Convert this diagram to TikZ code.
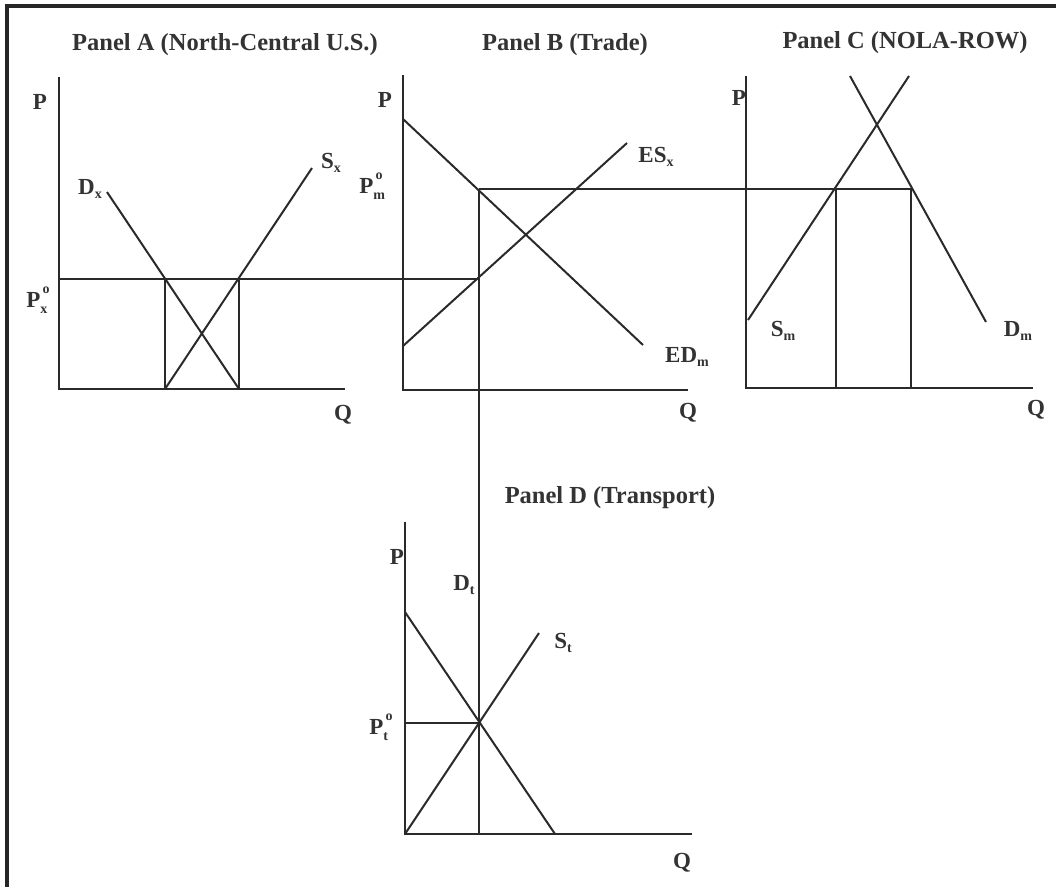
\documentclass[tikz,border=0pt]{standalone}
\usepackage{fontspec}
\setmainfont{Liberation Serif}
\definecolor{ink}{HTML}{2A2A2A}
\definecolor{txt}{HTML}{333333}
\newcommand\lbsub[2]{#1\raisebox{-0.4ex}{\fontsize{14}{14}\selectfont #2}}
\newcommand\lbsubsup[3]{#1\rlap{\raisebox{-0.5ex}{\fontsize{14}{14}\selectfont #2}}\raisebox{1.35ex}{\fontsize{14}{14}\selectfont\,#3}}
\begin{document}
\begin{tikzpicture}[x=1pt,y=-1pt,
  curve/.style={draw=ink,line width=2pt},
  frame/.style={draw=black!85,line width=3.2pt},
  title/.style={text=txt,font=\fontsize{24.5}{28}\selectfont\bfseries,inner sep=0pt},
  lab/.style={text=txt,font=\fontsize{23}{25}\selectfont\bfseries,inner sep=0pt}]
\useasboundingbox (0,0) rectangle (1056,887);
% frame
\coordinate (fTL) at (7,6);
\coordinate (fTR) at (1056,6);
\coordinate (fBL) at (7,887);
\draw[frame] (fTR) -- (fTL) -- (fBL);

% ---------- Panel A ----------
\coordinate (A0) at (59,389);
\coordinate (Atop) at (59,77);
\coordinate (Aright) at (345,389);
\coordinate (AD1) at (107,192);
\coordinate (AD2) at (239,389);
\coordinate (AS1) at (165,389);
\coordinate (AS2) at (312,168);
\coordinate (APx) at (59,279);
\coordinate (AX1) at (165,279);
\coordinate (AX2) at (239,279);
\draw[curve] (Atop) -- (A0) -- (Aright);
\draw[curve] (AD1) -- (AD2);
\draw[curve] (AS1) -- (AS2);
\draw[curve] (AX1) -- (AS1);
\draw[curve] (AX2) -- (AD2);

% ---------- Panel B ----------
\coordinate (B0) at (403,390);
\coordinate (Btop) at (403,75);
\coordinate (Bright) at (688,390);
\coordinate (BD1) at (403,119);
\coordinate (BD2) at (643,345);
\coordinate (BS1) at (403,346);
\coordinate (BS2) at (627,143);
\coordinate (BPx) at (479,279);
\coordinate (BPm) at (479,189);
\draw[curve] (Btop) -- (B0) -- (Bright);
\draw[curve] (BD1) -- (BD2);
\draw[curve] (BS1) -- (BS2);
\draw[curve] (APx) -- (BPx);

% ---------- Panel C ----------
\coordinate (C0) at (746,388);
\coordinate (Ctop) at (746,76);
\coordinate (Cright) at (1033,388);
\coordinate (CS1) at (748,320);
\coordinate (CS2) at (909,76);
\coordinate (CD1) at (850,76);
\coordinate (CD2) at (986,322);
\coordinate (CX1) at (836,189);
\coordinate (CX2) at (911,189);
\coordinate (CB1) at (836,388);
\coordinate (CB2) at (911,388);
\draw[curve] (Ctop) -- (C0) -- (Cright);
\draw[curve] (CS1) -- (CS2);
\draw[curve] (CD1) -- (CD2);
\draw[curve] (BPm) -- (CX2);
\draw[curve] (CX1) -- (CB1);
\draw[curve] (CX2) -- (CB2);

% ---------- Panel D ----------
\coordinate (D0) at (405,834);
\coordinate (Dtop) at (405,522);
\coordinate (Dright) at (692,834);
\coordinate (DD1) at (405,612);
\coordinate (DD2) at (555,834);
\coordinate (DS2) at (539,633);
\coordinate (DPt) at (405,723);
\coordinate (DE) at (479,723);
\coordinate (DB) at (479,834);
\draw[curve] (Dtop) -- (D0) -- (Dright);
\draw[curve] (DD1) -- (DD2);
\draw[curve] (D0) -- (DS2);
\draw[curve] (DPt) -- (DE);
\draw[curve] (BPm) -- (DB);

% ---------- Titles ----------
\node[title] (tA) at (225,45) {Panel A (North-Central U.S.)};
\node[title] (tB) at (565,45) {Panel B (Trade)};
\node[title] (tC) at (905,43) {Panel C (NOLA-ROW)};
\node[title] (tD) at (610,498) {Panel D (Transport)};

% ---------- Labels ----------
\node[lab] (pA) at (40,102) {P};
\node[lab] (qA) at (343,415) {Q};
\node[lab] (dx) at (90,189) {\lbsub{D}{x}};
\node[lab] (sx) at (331,163) {\lbsub{S}{x}};
\node[lab] (px) at (38,300) {\lbsubsup{P}{x}{o}};

\node[lab] (pB) at (385,100) {P};
\node[lab] (qB) at (688,413) {Q};
\node[lab] (pm) at (371,186) {\lbsubsup{P}{m}{o}};
\node[lab] (esx) at (656,157) {\lbsub{ES}{x}};
\node[lab] (edm) at (687,357) {\lbsub{ED}{m}};

\node[lab] (pC) at (739,98) {P};
\node[lab] (qC) at (1036,410) {Q};
\node[lab] (sm) at (783,331) {\lbsub{S}{m}};
\node[lab] (dm) at (1018,331) {\lbsub{D}{m}};

\node[lab] (pD) at (397,557) {P};
\node[lab] (qD) at (682,863) {Q};
\node[lab] (dt) at (464,585) {\lbsub{D}{t}};
\node[lab] (st) at (563,643) {\lbsub{S}{t}};
\node[lab] (pt) at (381,727) {\lbsubsup{P}{t}{o}};
\end{tikzpicture}
\end{document}
